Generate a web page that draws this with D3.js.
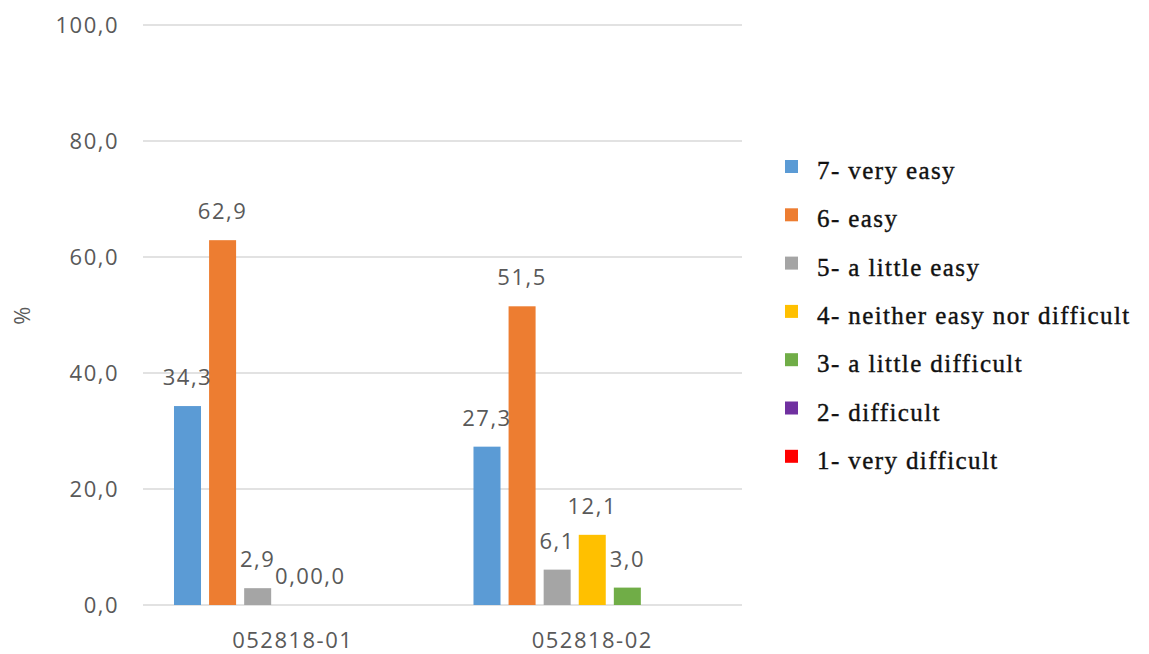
<!DOCTYPE html>
<html>
<head>
<meta charset="utf-8">
<script src="https://cdn.jsdelivr.net/npm/d3@7"></script>
<style>
  body { margin: 0; background: #fff; }
  .tick-label { font-family: "Open Sans", sans-serif; font-size: 22px; fill: #595959; letter-spacing: 1.5px; }
  .legend-label { font-family: "Liberation Serif", "Times New Roman", serif; font-size: 25px; fill: #111; stroke: #111; stroke-width: 0.4px; letter-spacing: 1.4px; }
</style>
</head>
<body>
<div id="chart"></div>
<script>
// categories (x axis)
var categories = ["052818-01", "052818-02"];

// series names, in legend order
var seriesNames = [
  "7- very easy",
  "6- easy",
  "5- a little easy",
  "4- neither easy nor difficult",
  "3- a little difficult",
  "2- difficult",
  "1- very difficult"
];
var seriesColors = ["#5B9BD5", "#ED7D31", "#A5A5A5", "#FFC000", "#70AD47", "#7030A0", "#FF0000"];

// values per series, one per category (null = no data)
var veryEasy      = [34.3, 27.3];
var easy          = [62.9, 51.5];
var littleEasy    = [2.9, 6.1];
var neither       = [0.0, 12.1];
var littleDiff    = [0.0, 3.0];
var difficult     = [null, null];
var veryDifficult = [null, null];

var yTicks = [0, 20, 40, 60, 80, 100];

var seriesValues = [veryEasy, easy, littleEasy, neither, littleDiff, difficult, veryDifficult];

var W = 1149, H = 654;
var plot = { left: 143, right: 742, top: 25, bottom: 605 };

var fmt = function (v) { return v.toFixed(1).replace(".", ","); };

var svg = d3.select("#chart").append("svg")
  .attr("width", W)
  .attr("height", H);

var x0 = d3.scaleBand()
  .domain(categories)
  .range([plot.left, plot.right])
  .paddingInner(0.18)
  .paddingOuter(0.09);

var x1 = d3.scaleBand()
  .domain(seriesNames)
  .range([0, x0.bandwidth()])
  .paddingInner(0.23)
  .paddingOuter(0.115);

var y = d3.scaleLinear()
  .domain([0, 100])
  .range([plot.bottom, plot.top]);

// gridlines
svg.append("g")
  .selectAll("line")
  .data(yTicks)
  .join("line")
  .attr("x1", plot.left)
  .attr("x2", plot.right)
  .attr("y1", function (d) { return y(d); })
  .attr("y2", function (d) { return y(d); })
  .attr("stroke", "#D9D9D9")
  .attr("stroke-width", 1.5);

// y tick labels
svg.append("g")
  .selectAll("text")
  .data(yTicks)
  .join("text")
  .attr("class", "tick-label")
  .attr("x", plot.left - 24)
  .attr("y", function (d) { return y(d); })
  .attr("dy", "0.35em")
  .attr("text-anchor", "end")
  .text(fmt);

// y axis title
svg.append("text")
  .attr("class", "tick-label")
  .attr("transform", "translate(30,315) rotate(-90)")
  .attr("text-anchor", "middle")
  .text("%");

// category labels
svg.append("g")
  .selectAll("text")
  .data(categories)
  .join("text")
  .attr("class", "tick-label")
  .attr("x", function (d) { return x0(d) + x0.bandwidth() / 2; })
  .attr("y", 648)
  .attr("text-anchor", "middle")
  .text(function (d) { return d; });

// flatten into bar records
var bars = [];
categories.forEach(function (c, ci) {
  seriesNames.forEach(function (s, si) {
    var v = seriesValues[si][ci];
    if (v !== null) bars.push({ cat: c, series: s, color: seriesColors[si], value: v });
  });
});

var groups = svg.append("g");

groups.selectAll("rect")
  .data(bars)
  .join("rect")
  .attr("x", function (d) { return x0(d.cat) + x1(d.series); })
  .attr("width", x1.bandwidth())
  .attr("y", function (d) { return y(d.value); })
  .attr("height", function (d) { return y(0) - y(d.value); })
  .attr("fill", function (d) { return d.color; });

// value labels
groups.selectAll("text")
  .data(bars)
  .join("text")
  .attr("class", "tick-label")
  .attr("x", function (d) { return x0(d.cat) + x1(d.series) + x1.bandwidth() / 2; })
  .attr("y", function (d) { return y(d.value) - 21; })
  .attr("text-anchor", "middle")
  .text(function (d) { return fmt(d.value); });

// legend
var legend = svg.append("g")
  .selectAll("g")
  .data(seriesNames)
  .join("g")
  .attr("transform", function (d, i) { return "translate(785," + (160 + i * 48.3) + ")"; });

legend.append("rect")
  .attr("width", 13)
  .attr("height", 13)
  .attr("fill", function (d, i) { return seriesColors[i]; });

legend.append("text")
  .attr("class", "legend-label")
  .attr("x", 32)
  .attr("y", 19)
  .text(function (d) { return d; });
</script>
</body>
</html>
